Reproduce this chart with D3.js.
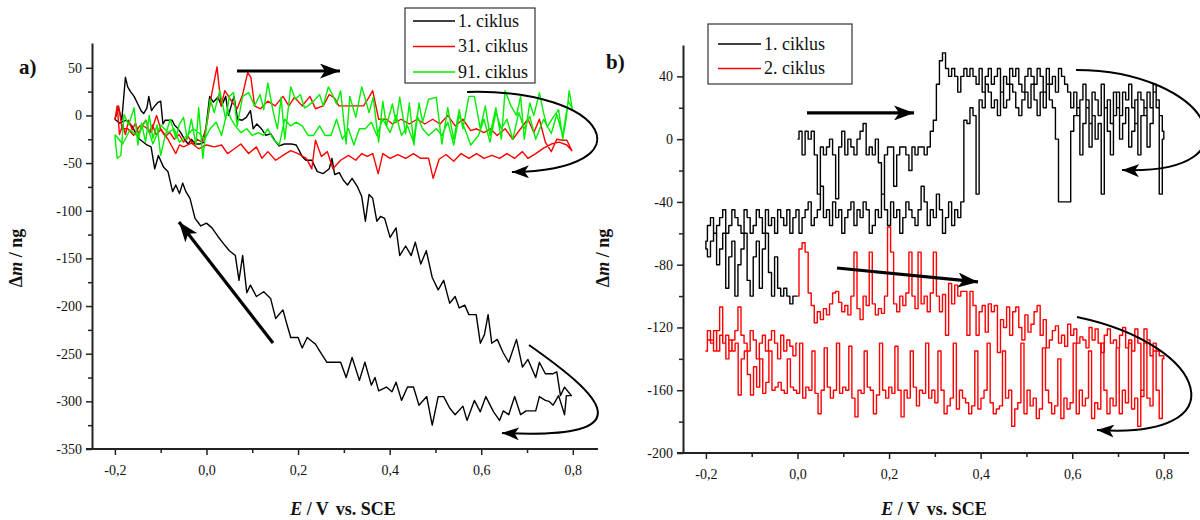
<!DOCTYPE html>
<html><head><meta charset="utf-8">
<script src="https://cdn.jsdelivr.net/npm/d3@7"></script>
<style>body{margin:0;background:#fff} svg{display:block} text{font-family:"Liberation Serif","DejaVu Serif",serif;fill:#111}</style>
</head><body><svg id="c" width="1200" height="520"></svg>
<script>
// ---------- shared axis ticks ----------
const xTicks = [-0.2, 0, 0.2, 0.4, 0.6, 0.8];
const xMinor = [-0.1, 0.1, 0.3, 0.5, 0.7];
const aYTicks = [-350, -300, -250, -200, -150, -100, -50, 0, 50];
const aYMinor = [-325, -275, -225, -175, -125, -75, -25, 25];
const bYTicks = [-200, -160, -120, -80, -40, 0, 40];
const bYMinor = [-180, -140, -100, -60, -20, 20];
const aSeriesNames = ["1. ciklus", "31. ciklus", "91. ciklus"];
const bSeriesNames = ["1. ciklus", "2. ciklus"];
const colors = ["#000000", "#ff0000", "#00ee00"];

// ---------- panel a data: [E (V), dm (ng)] ----------
const aBlackFwd = [[-0.2,-4],[-0.192,8],[-0.185,-5],[-0.177,40],[-0.172,30],[-0.166,25],[-0.158,20],[-0.15,12],[-0.143,5],[-0.137,2],[-0.13,8],[-0.126,20],[-0.12,5],[-0.113,10],[-0.105,14],[-0.1,15],[-0.095,-9],[-0.09,-5],[-0.075,-5],[-0.07,-10],[-0.062,-14],[-0.055,-19],[-0.048,-25],[-0.04,-30],[-0.033,-25],[-0.025,-30],[-0.015,-30],[-0.005,-28],[0.007,20],[0.015,14],[0.025,19],[0.033,10],[0.042,20],[0.048,0],[0.054,10],[0.06,20],[0.068,-4],[0.078,-5],[0.087,-2],[0.096,5],[0.102,-14],[0.11,-9],[0.12,-14],[0.13,-21],[0.14,-19],[0.15,-27],[0.159,-32],[0.17,-30],[0.185,-30],[0.196,-31],[0.209,-43],[0.217,-47],[0.23,-47],[0.242,-59],[0.255,-61],[0.268,-56],[0.274,-45],[0.28,-62],[0.29,-60],[0.299,-68],[0.308,-73],[0.318,-66],[0.33,-75],[0.339,-85],[0.347,-111],[0.355,-83],[0.363,-87],[0.372,-111],[0.38,-106],[0.389,-108],[0.401,-128],[0.414,-118],[0.422,-147],[0.435,-137],[0.447,-147],[0.456,-133],[0.468,-156],[0.48,-142],[0.493,-170],[0.506,-183],[0.518,-173],[0.531,-197],[0.543,-190],[0.552,-202],[0.564,-199],[0.573,-209],[0.589,-209],[0.598,-239],[0.607,-230],[0.615,-209],[0.623,-239],[0.635,-235],[0.648,-249],[0.66,-259],[0.677,-235],[0.69,-264],[0.702,-256],[0.719,-275],[0.727,-259],[0.74,-271],[0.757,-271],[0.765,-269],[0.773,-294],[0.782,-285],[0.79,-290],[0.797,-294]];
const aBlackRev = [[0.794,-294],[0.786,-294],[0.782,-314],[0.769,-294],[0.757,-304],[0.748,-300],[0.74,-299],[0.727,-295],[0.719,-310],[0.698,-310],[0.686,-314],[0.673,-295],[0.66,-314],[0.648,-310],[0.64,-320],[0.627,-311],[0.61,-295],[0.598,-311],[0.585,-299],[0.569,-320],[0.56,-305],[0.543,-314],[0.531,-307],[0.518,-295],[0.506,-295],[0.493,-325],[0.481,-295],[0.464,-304],[0.452,-285],[0.439,-285],[0.426,-299],[0.414,-280],[0.405,-290],[0.393,-285],[0.376,-289],[0.368,-275],[0.36,-283],[0.346,-259],[0.334,-278],[0.318,-254],[0.305,-275],[0.293,-259],[0.263,-259],[0.247,-247],[0.238,-240],[0.23,-237],[0.22,-233],[0.209,-244],[0.2,-233],[0.184,-233],[0.175,-218],[0.167,-204],[0.151,-213],[0.14,-192],[0.125,-185],[0.109,-190],[0.096,-178],[0.088,-186],[0.079,-147],[0.071,-173],[0.063,-147],[0.05,-142],[0.038,-135],[0.025,-127],[0.012,-118],[0.0,-113],[-0.0125,-116],[-0.025,-108],[-0.036,-87],[-0.045,-80],[-0.052,-71],[-0.059,-82],[-0.067,-73],[-0.074,-80],[-0.084,-59],[-0.094,-54],[-0.105,-42],[-0.113,-56],[-0.121,-33],[-0.13,-31],[-0.146,-25],[-0.155,-18],[-0.163,-11],[-0.175,-5],[-0.19,-8],[-0.2,-4]];
const aRedFwd = [[-0.2,-5],[-0.195,10],[-0.19,-20],[-0.183,-10],[-0.177,-20],[-0.17,-5],[-0.162,-15],[-0.155,-8],[-0.148,-20],[-0.14,-10],[-0.132,-5],[-0.125,-18],[-0.118,-10],[-0.11,-20],[-0.1,-15],[-0.09,-22],[-0.08,-18],[-0.07,-25],[-0.06,-20],[-0.05,-28],[-0.04,-22],[-0.03,-30],[-0.02,-25],[-0.01,-28],[0.0,-11],[0.012,24],[0.023,51],[0.032,10],[0.04,26],[0.052,17],[0.067,7],[0.079,22],[0.09,45],[0.097,40],[0.105,10],[0.118,7],[0.134,15],[0.15,10],[0.167,20],[0.18,10],[0.192,19],[0.209,10],[0.226,20],[0.238,7],[0.255,10],[0.268,22],[0.28,18],[0.289,10],[0.305,10],[0.322,10],[0.343,10],[0.356,20],[0.363,26],[0.376,-4],[0.393,-4],[0.406,-9],[0.425,-4],[0.443,-9],[0.46,-4],[0.477,-9],[0.494,-4],[0.51,-9],[0.527,0],[0.543,-11],[0.56,-4],[0.577,-16],[0.59,-14],[0.606,-18],[0.62,-14],[0.635,-21],[0.652,-14],[0.669,-25],[0.686,-14],[0.702,-4],[0.715,-18],[0.727,-4],[0.74,-28],[0.753,-38],[0.765,-25],[0.777,-26],[0.787,-26],[0.798,-37]];
const aRedRev = [[0.787,-31],[0.77,-28],[0.753,-30],[0.737,-34],[0.719,-40],[0.702,-45],[0.69,-38],[0.673,-45],[0.656,-40],[0.64,-45],[0.623,-42],[0.606,-45],[0.59,-40],[0.573,-45],[0.556,-40],[0.54,-48],[0.523,-41],[0.508,-46],[0.495,-66],[0.485,-45],[0.468,-45],[0.452,-40],[0.435,-45],[0.418,-41],[0.401,-45],[0.385,-40],[0.375,-61],[0.363,-40],[0.351,-43],[0.339,-40],[0.326,-47],[0.31,-42],[0.293,-47],[0.276,-56],[0.264,-38],[0.251,-43],[0.238,-26],[0.23,-56],[0.218,-45],[0.2,-40],[0.184,-37],[0.167,-42],[0.151,-47],[0.134,-38],[0.121,-45],[0.109,-33],[0.092,-40],[0.075,-30],[0.058,-36],[0.046,-40],[0.033,-31],[0.017,-33],[0.0,-31],[-0.017,-35],[-0.033,-29],[-0.05,-33],[-0.059,-31],[-0.067,-40],[-0.084,-25],[-0.1,-14],[-0.109,0],[-0.121,-18],[-0.134,-12],[-0.146,-11],[-0.159,-21],[-0.172,-14],[-0.184,-14],[-0.192,10],[-0.2,-4]];
const aGreenFwd = [[-0.2,-21],[-0.195,-45],[-0.187,-42],[-0.18,1],[-0.17,-10],[-0.158,8],[-0.15,-31],[-0.142,-8],[-0.133,-28],[-0.125,0],[-0.117,-24],[-0.108,-10],[-0.1,-42],[-0.09,-21],[-0.079,-4],[-0.067,-24],[-0.059,-9],[-0.05,-2],[-0.042,-25],[-0.033,-4],[-0.023,-31],[-0.017,8],[-0.008,-45],[0.0,-11],[0.008,17],[0.017,3],[0.029,26],[0.042,-4],[0.05,20],[0.059,24],[0.067,-11],[0.079,20],[0.092,24],[0.105,10],[0.117,22],[0.125,6],[0.134,34],[0.146,3],[0.155,-14],[0.163,19],[0.171,-25],[0.184,30],[0.194,17],[0.205,22],[0.214,8],[0.222,10],[0.234,15],[0.247,22],[0.255,10],[0.266,30],[0.276,21],[0.284,12],[0.293,26],[0.305,-30],[0.313,20],[0.326,-2],[0.339,30],[0.347,17],[0.355,3],[0.364,19],[0.376,-28],[0.385,15],[0.393,-11],[0.406,12],[0.414,-7],[0.422,19],[0.435,-19],[0.443,13],[0.453,-31],[0.464,13],[0.472,-7],[0.485,17],[0.502,19],[0.514,-30],[0.527,8],[0.54,-25],[0.552,6],[0.56,-14],[0.573,20],[0.585,20],[0.598,-14],[0.609,10],[0.619,-21],[0.632,8],[0.644,-25],[0.652,26],[0.665,10],[0.677,0],[0.686,20],[0.694,-25],[0.706,13],[0.715,0],[0.727,24],[0.736,3],[0.744,-12],[0.757,-2],[0.769,6],[0.778,-25],[0.786,-2],[0.792,26],[0.799,7]];
const aGreenRev = [[0.79,15],[0.778,-21],[0.765,1],[0.753,-19],[0.736,-4],[0.719,-25],[0.706,-1],[0.694,-14],[0.682,3],[0.669,-25],[0.656,-4],[0.644,-14],[0.632,3],[0.619,-28],[0.606,-4],[0.594,-21],[0.577,-31],[0.564,-14],[0.552,0],[0.54,-31],[0.527,-7],[0.514,-21],[0.502,-14],[0.485,-21],[0.472,-14],[0.46,0],[0.452,-28],[0.439,-11],[0.426,-21],[0.414,0],[0.401,-18],[0.385,-4],[0.372,-21],[0.36,-7],[0.347,-14],[0.334,-14],[0.322,-31],[0.31,-14],[0.297,-25],[0.284,-4],[0.272,-21],[0.259,-21],[0.247,-11],[0.234,-21],[0.222,-21],[0.209,-11],[0.196,-7],[0.184,-11],[0.171,-4],[0.159,-31],[0.146,-25],[0.134,-14],[0.125,-21],[0.113,-18],[0.1,-21],[0.088,-14],[0.075,-18],[0.063,-11],[0.054,-4],[0.046,6],[0.033,-21],[0.021,-7],[0.008,-14],[-0.004,-25],[-0.017,-18],[-0.029,-14],[-0.042,-21],[-0.059,-28],[-0.071,-14],[-0.084,-18],[-0.1,-10],[-0.117,-30],[-0.133,-5],[-0.15,-22],[-0.167,-15],[-0.183,-30],[-0.2,-20]];

// ---------- panel b data: uniform potential sweeps, dm values (ng) ----------
const bBlackSweeps = [[0.0, 0.8], [0.8, -0.2], [-0.2, 0.0]];
const bBlackF1 = [0,5,-10,5,0,5,-10,-35,-5,-10,-5,0,-10,-38,-5,5,-10,0,-5,-10,0,5,10,-10,-5,-10,0,-15,-35,-10,-5,-5,-30,-10,-5,-5,-10,-20,-5,-10,-5,-5,-10,-5,5,12,35,50,55,45,40,45,40,30,40,45,40,45,40,35,45,30,40,45,35,40,45,30,40,35,45,40,45,35,30,40,45,40,35,45,40,30,45,35,40,30,45,40,35,30,20,30,15,25,35,20,10,30,25,15,35,20,25,10,30,20,15,30,25,35,20,10,30,25,15,30,20,35,25,15,5];
const bBlackR = [0,-35,20,30,10,-5,20,15,-10,25,5,-5,20,10,0,30,15,-10,5,20,-35,10,0,15,-5,25,10,-10,20,15,5,-40,-40,-40,-40,0,20,25,35,20,30,15,25,35,20,30,25,15,20,30,35,25,20,30,15,25,20,30,35,20,25,-35,15,20,10,12,-40,-50,-45,-55,-40,-50,-60,-45,-35,-50,-45,-55,-40,-30,-45,-55,-50,-45,-40,-50,-60,-45,-50,-40,-55,-45,-35,-50,-45,-55,-60,-45,-40,-50,-45,-55,-40,-45,-50,-60,-45,-50,-40,-55,-45,-50,-30,-45,-50,-55,-40,-45,-50,-60,-45,-50,-60,-45,-55,-50,-45,-60,-50,-55,-45,-60,-50,-45,-55,-60,-50,-45,-60,-55,-50,-45,-55,-60,-45,-50,-55,-60,-50,-55,-65];
const bBlackF2 = [-70,-75,-65,-60,-80,-70,-60,-95,-75,-65,-100,-80,-70,-60,-90,-100,-75,-65,-95,-70,-60,-85,-100,-75,-95,-100,-95,-100,-105,-100,-100];
const bRedSweeps = [[0.0, 0.8], [0.8, -0.2], [-0.2, 0.0]];
const bRedF1 = [-100,-70,-66,-72,-98,-106,-117,-110,-115,-108,-112,-105,-98,-97,-104,-110,-106,-112,-100,-72,-108,-115,-100,-106,-72,-105,-112,-108,-111,-100,-56,-72,-105,-110,-100,-106,-98,-72,-100,-108,-72,-105,-100,-110,-98,-72,-100,-110,-99,-125,-92,-105,-93,-100,-97,-97,-125,-97,-106,-125,-110,-106,-123,-105,-110,-106,-136,-115,-120,-107,-125,-110,-107,-120,-128,-112,-123,-118,-110,-106,-125,-115,-133,-128,-122,-119,-130,-125,-132,-118,-125,-121,-130,-126,-128,-133,-120,-128,-121,-130,-136,-125,-121,-130,-128,-133,-125,-120,-133,-128,-135,-121,-130,-164,-121,-128,-138,-130,-135,-138,-138];
const bRedR = [-140,-178,-160,-135,-170,-165,-130,-160,-183,-165,-172,-130,-168,-160,-175,-133,-170,-165,-175,-160,-130,-172,-168,-178,-135,-165,-170,-160,-175,-130,-168,-172,-165,-178,-140,-170,-175,-168,-160,-133,-172,-178,-165,-170,-160,-175,-130,-168,-172,-183,-160,-165,-135,-170,-172,-175,-168,-130,-160,-165,-172,-135,-170,-175,-168,-165,-160,-172,-130,-165,-170,-175,-160,-135,-168,-160,-165,-130,-162,-160,-170,-158,-135,-165,-160,-177,-160,-132,-162,-158,-165,-160,-130,-163,-175,-160,-158,-135,-162,-160,-177,-165,-132,-160,-158,-162,-130,-160,-165,-158,-133,-160,-175,-162,-135,-160,-158,-165,-130,-162,-160,-158,-140,-162,-160,-155,-158,-160,-135,-155,-162,-140,-158,-145,-163,-150,-135,-140,-163,-130,-135,-128,-140,-130,-125,-135,-122,-130,-128,-135];
const bRedF2 = [-135,-122,-128,-135,-122,-107,-130,-125,-135,-128,-122,-107,-125,-130,-135,-122,-128,-140,-130,-125,-135,-128,-122,-130,-140,-125,-135,-128,-132,-138,-130];

// ---------- annotation arrows (data units) ----------
const aArrowStraight = [[[0.0667, 46.6], [0.2916, 46.6]], [[0.1453, -238.8], [-0.06, -111.8]]];
const aArrowCurved = [[[0.569, 24.6], [0.881, 28.8], [0.9686, -57.3], [0.667, -59.4]],
                      [[0.7043, -240.9], [0.8594, -293.3], [0.9686, -340.6], [0.6454, -333.2]]];
const bArrowStraight = [[[0.0208, 16.7], [0.2545, 16.7]], [[0.0863, -82.1], [0.3942, -91.0]]];
const bArrowCurved = [[[0.6082, 44.1], [0.9009, 44.1], [1.021, -22.8], [0.7087, -19.7]],
                      [[0.6104, -113.3], [0.9009, -131.2], [0.966, -191.7], [0.654, -185.3]]];

// ---------- drawing ----------
const svg = d3.select("#c");
const defs = svg.append("defs");
function marker(id, len, wid) {
  defs.append("marker").attr("id", id).attr("markerUnits", "userSpaceOnUse")
    .attr("viewBox", `0 0 ${len} ${wid}`).attr("refX", len).attr("refY", wid / 2)
    .attr("markerWidth", len).attr("markerHeight", wid).attr("orient", "auto")
    .append("path").attr("d", `M0,0L${len},${wid / 2}L0,${wid}L${len * 0.25},${wid / 2}Z`).attr("fill", "#000");
}
marker("headBig", 20, 15);
marker("headSmall", 17, 13);

function sweep(range, vals) {
  const [e0, e1] = range;
  return vals.map((v, i) => [e0 + (e1 - e0) * i / (vals.length - 1), v]);
}
const fmtX = v => d3.format(".1f")(v).replace(".", ",").replace("−", "-");

function panel(cfg) {
  const g = svg.append("g");
  const x = d3.scaleLinear().domain([-0.25, 0.855]).range([cfg.left, cfg.right]);
  const y = d3.scaleLinear().domain(cfg.yDomain).range([cfg.bottom, cfg.top]);

  g.append("g").attr("transform", `translate(0,${cfg.bottom})`)
    .call(d3.axisBottom(x).tickValues(xMinor).tickSize(4).tickFormat("").tickSizeOuter(0))
    .call(s => s.select(".domain").remove());
  g.append("g").attr("transform", `translate(${cfg.left},0)`)
    .call(d3.axisLeft(y).tickValues(cfg.yMinor).tickSize(4).tickFormat("").tickSizeOuter(0))
    .call(s => s.select(".domain").remove());
  const gx = g.append("g").attr("transform", `translate(0,${cfg.bottom})`)
    .call(d3.axisBottom(x).tickValues(xTicks).tickSize(6).tickPadding(10).tickFormat(fmtX).tickSizeOuter(0));
  const gy = g.append("g").attr("transform", `translate(${cfg.left},0)`)
    .call(d3.axisLeft(y).tickValues(cfg.yTicks).tickSize(6).tickPadding(4).tickFormat(d => String(d)).tickSizeOuter(0));
  [gx, gy].forEach(a => {
    a.selectAll("text").attr("font-size", 14).attr("font-family", "Liberation Serif, serif").attr("fill", "#222");
    a.select(".domain").attr("stroke", "#222").attr("stroke-width", 2);
  });
  g.selectAll("line").attr("stroke", "#222").attr("stroke-width", 1.5);
  gx.select(".domain").attr("d", `M${cfg.left - 6},0H${cfg.right}`);

  const line = d3.line().x(d => x(d[0])).y(d => y(d[1]));
  const dataLine = d3.line().x(d => x(d[0])).y(d => y(d[1])).curve(cfg.curve);
  cfg.series.forEach((s, i) => {
    g.append("path").datum(s).attr("d", dataLine).attr("fill", "none")
      .attr("stroke", cfg.colors[i]).attr("stroke-width", 1.4).attr("stroke-linejoin", "round");
  });

  cfg.straight.forEach(a => {
    g.append("path").attr("d", line(a)).attr("stroke", "#000").attr("stroke-width", 3.2)
      .attr("fill", "none").attr("marker-end", "url(#headBig)");
  });
  cfg.curved.forEach(c => {
    const p = c.map(d => [x(d[0]), y(d[1])]);
    g.append("path").attr("d", `M${p[0]}C${p[1]} ${p[2]} ${p[3]}`).attr("stroke", "#000")
      .attr("stroke-width", 2).attr("fill", "none").attr("marker-end", "url(#headSmall)");
  });

  const xt = g.append("text").attr("x", (cfg.left + cfg.right) / 2 - 2).attr("y", 515)
    .attr("text-anchor", "middle").attr("font-size", 18).attr("font-weight", "bold");
  xt.append("tspan").attr("font-style", "italic").text("E");
  xt.append("tspan").text(" / V");
  xt.append("tspan").attr("dx", 7).text("vs. SCE");
  const yt = g.append("text").attr("transform", `translate(${cfg.ytX},${cfg.ytY}) rotate(-90)`)
    .attr("text-anchor", "middle").attr("font-size", 18).attr("font-weight", "bold");
  yt.append("tspan").text("Δ");
  yt.append("tspan").attr("font-style", "italic").text("m");
  yt.append("tspan").text(" / ng");

  g.append("text").attr("x", cfg.labX).attr("y", cfg.labY).attr("font-size", 21)
    .attr("font-weight", "bold").text(cfg.label);

  const L = cfg.legend;
  const lg = g.append("g");
  lg.append("rect").attr("x", L.x).attr("y", L.y).attr("width", L.w).attr("height", L.h)
    .attr("fill", "#fff").attr("stroke", "#333").attr("stroke-width", 1.2);
  L.names.forEach((n, i) => {
    const yy = L.y + L.first + i * L.step;
    lg.append("line").attr("x1", L.x + L.l0).attr("x2", L.x + L.l1).attr("y1", yy).attr("y2", yy)
      .attr("stroke", cfg.colors[i]).attr("stroke-width", 1.5);
    lg.append("text").attr("x", L.x + L.l1 + 3).attr("y", yy).attr("dy", "0.33em")
      .attr("font-size", 18).text(n);
  });
}

panel({
  left: 92, right: 598, top: 43, bottom: 449, yDomain: [-350, 76],
  yTicks: aYTicks, yMinor: aYMinor, curve: d3.curveLinear,
  series: [aBlackFwd.concat(aBlackRev), aRedFwd.concat(aRedRev), aGreenFwd.concat(aGreenRev)],
  colors: colors,
  straight: aArrowStraight, curved: aArrowCurved,
  ytX: 22, ytY: 258, labX: 19, labY: 74, label: "a)",
  legend: { x: 405, y: 8, w: 130, h: 75, first: 13, step: 25.5, l0: 8, l1: 50, names: aSeriesNames }
});
panel({
  left: 683, right: 1189, top: 45, bottom: 453, yDomain: [-200, 60],
  yTicks: bYTicks, yMinor: bYMinor, curve: d3.curveStep,
  series: [
    sweep(bBlackSweeps[0], bBlackF1).concat(sweep(bBlackSweeps[1], bBlackR), sweep(bBlackSweeps[2], bBlackF2)),
    sweep(bRedSweeps[0], bRedF1).concat(sweep(bRedSweeps[1], bRedR), sweep(bRedSweeps[2], bRedF2))
  ],
  colors: colors,
  straight: bArrowStraight, curved: bArrowCurved,
  ytX: 609, ytY: 258, labX: 606, labY: 69, label: "b)",
  legend: { x: 708, y: 24, w: 144, h: 60, first: 20, step: 24.5, l0: 10, l1: 53, names: bSeriesNames }
});
</script></body></html>
